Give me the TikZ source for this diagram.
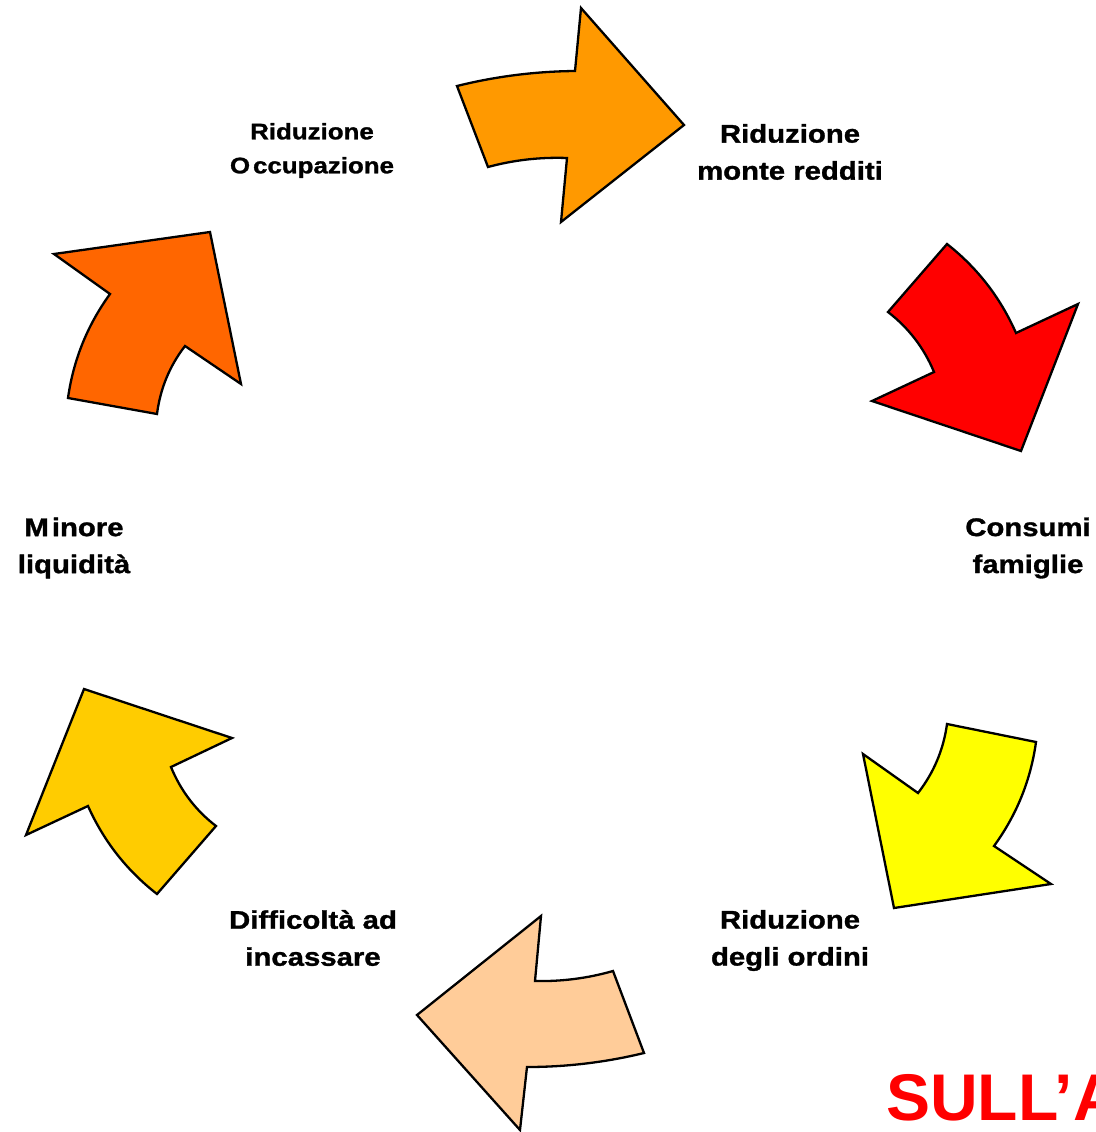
\documentclass[tikz,border=0pt]{standalone}
\usepackage{fontspec}
\setmainfont{Liberation Sans}
\newfontfamily\labfont{Liberation Sans}[FakeStretch=1.15,BoldFeatures={FakeBold=1.2}]
\newfontfamily\redfont{Liberation Sans}
\definecolor{cOrange}{HTML}{FF9900}
\definecolor{cRed}{HTML}{FF0000}
\definecolor{cYellow}{HTML}{FFFF00}
\definecolor{cPeach}{HTML}{FFCC99}
\definecolor{cGold}{HTML}{FFCC00}
\definecolor{cDark}{HTML}{FF6600}
\begin{document}
\begin{tikzpicture}[x=1pt,y=-1pt,
  arrowshape/.style={draw=black,line width=2.3pt,line join=miter},
  lab/.style={align=center,inner sep=0pt,font=\labfont\bfseries\fontsize{25.5}{37}\selectfont},
  labsmall/.style={align=center,inner sep=0pt,font=\labfont\bfseries\fontsize{22.5}{34}\selectfont},
  title/.style={anchor=base west,inner sep=0pt,text=cRed,font=\redfont\bfseries\fontsize{66}{70}\selectfont}]
\useasboundingbox (0,0) rectangle (1095,1132);
\clip (0,0) rectangle (1095,1132);
% arrows
\path[arrowshape,fill=cOrange] (457,86) .. controls (495.7,76.4) and (535.1,71.4) .. (575,71) -- (581,8) -- (684,125) -- (561,222) -- (567,158) .. controls (540.2,157.0) and (513.9,160.0) .. (488,167) -- cycle;
\path[arrowshape,fill=cRed] (947,244) .. controls (977.4,267.9) and (1000.4,297.6) .. (1016,333) -- (1078,304) -- (1021,451) -- (872,401) -- (934,372) .. controls (924.0,347.9) and (908.6,327.9) .. (888,312) -- cycle;
\path[arrowshape,fill=cYellow] (1036,742) .. controls (1030.7,780.2) and (1016.7,814.8) .. (994,846) -- (1051,884) -- (894,908) -- (863,754) -- (918,793) .. controls (933.8,772.6) and (943.5,749.6) .. (947,724) -- cycle;
\path[arrowshape,fill=cPeach] (644,1053) .. controls (605.6,1062.3) and (566.6,1067.0) .. (527,1067) -- (520,1130) -- (417,1015) -- (541,916) -- (535,981) .. controls (561.5,981.6) and (587.5,978.3) .. (613,971) -- cycle;
\path[arrowshape,fill=cGold] (157,894) .. controls (126.7,870.4) and (103.7,841.1) .. (88,806) -- (26,835) -- (84,689) -- (232,738) -- (171,767) .. controls (180.7,790.7) and (195.7,810.4) .. (216,826) -- cycle;
\path[arrowshape,fill=cDark] (68,398) .. controls (73.4,359.8) and (87.4,325.2) .. (110,294) -- (54,254) -- (210,232) -- (241,384) -- (185,346) .. controls (169.5,366.1) and (160.2,388.8) .. (157,414) -- cycle;
% labels
\node[labsmall] (occ) at (312,150.5) {Riduzione\\O\kern3pt{}ccupazione};
\node[lab] (red) at (790,152) {Riduzione\\monte redditi};
\node[lab] (cons) at (1028,548) {Consumi\\famiglie};
\node[lab] (ord) at (790,940.5) {Riduzione\\degli ordini};
\node[lab] (inc) at (313,938) {Difficoltà ad\\incassare};
\node[lab] (liq) at (74,548) {M\kern3pt{}inore\\liquidità};
\node[title] (sull) at (886,1120) {SULL’A};
\end{tikzpicture}
\end{document}
